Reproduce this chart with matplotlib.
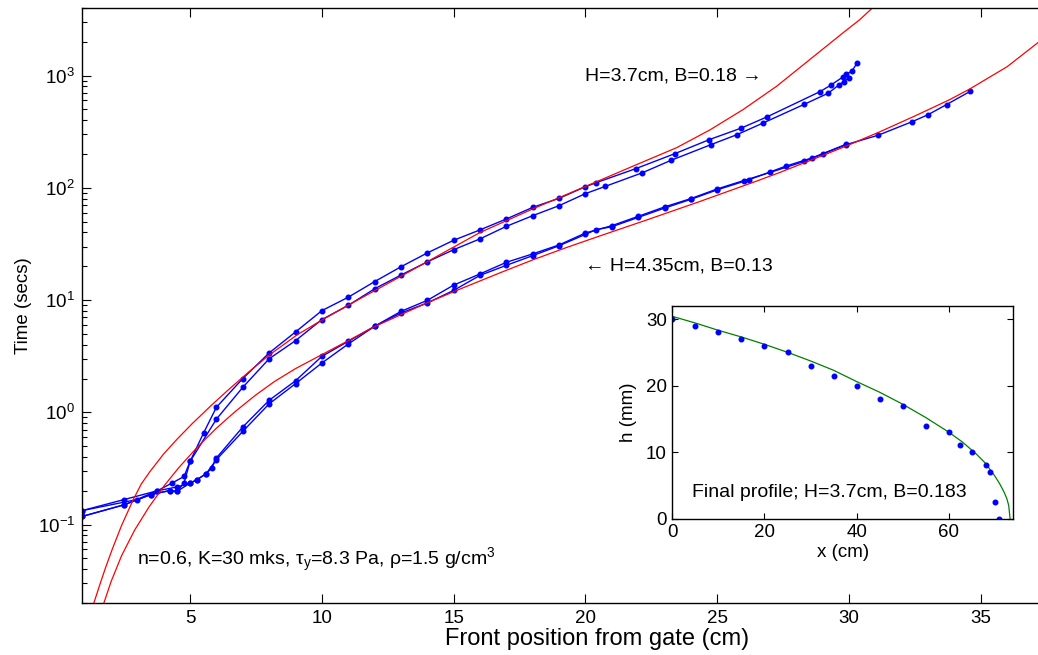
import matplotlib
matplotlib.use('Agg')
import matplotlib.pyplot as plt
from matplotlib.ticker import LogLocator, FixedLocator, NullLocator

plt.rcParams['font.family'] = ['Liberation Sans', 'DejaVu Sans']
plt.rcParams['mathtext.fontset'] = 'custom'
plt.rcParams['mathtext.rm'] = 'Liberation Sans'
plt.rcParams['mathtext.it'] = 'Liberation Sans:italic'
plt.rcParams['mathtext.default'] = 'regular'
plt.rcParams['font.size'] = 13.5

# ---------------- data ----------------
# H=3.7cm experiments
u1_x = [0.9, 2.50, 3.76, 4.31, 4.77, 5.0, 5.52, 6.0, 7, 8, 9, 10, 11, 12, 13, 14, 15, 16, 17, 18, 19, 20,
        20.4, 21.9, 23.4, 24.7, 25.9, 26.9, 28.9, 29.3, 29.75, 29.9, 30.1, 30.3]
u1_t = [0.133, 0.167, 0.20, 0.234, 0.268, 0.365, 0.66, 1.11, 2.0, 3.38, 5.2, 8.05, 10.6, 14.6, 19.8, 26.3,
        34.1, 42.2, 52.8, 67, 80.6, 102.5, 111, 148, 202, 269, 340, 430, 720, 820, 966, 1035, 1092, 1288]
u2_x = [0.9, 2.50, 3.51, 4.24, 4.50, 4.77, 5.0, 6.0, 7, 8, 9, 10, 11, 12, 13, 14, 15, 16, 17, 18, 19, 20,
        20.75, 22.15, 23.25, 24.75, 25.75, 26.75, 28.3, 29.2, 29.6, 29.8, 30.0]
u2_t = [0.118, 0.150, 0.185, 0.201, 0.197, 0.234, 0.365, 0.87, 1.67, 3.0, 4.35, 6.7, 8.97, 12.6, 16.7, 21.9,
        28.1, 35.1, 45.4, 56.5, 69.4, 88.8, 103, 136, 176, 242, 298, 379, 555, 695, 820, 885, 955]
# H=4.35cm experiments
l1_x = [0.9, 2.98, 3.76, 4.50, 5.0, 5.25, 5.61, 5.82, 6.0, 7, 8, 9, 10, 11, 12, 13, 14, 15, 16, 17, 18, 19,
        20, 21, 22, 23, 24, 25, 26, 27, 28.3, 29.0, 29.9, 31.1, 32.4, 33.0, 33.7, 34.6]
l1_t = [0.133, 0.167, 0.20, 0.216, 0.234, 0.25, 0.284, 0.318, 0.392, 0.74, 1.28, 1.91, 3.15, 4.29, 5.84,
        7.93, 9.94, 13.6, 17.1, 21.7, 25.8, 31.0, 39.6, 46.0, 55.7, 67.6, 80.2, 97.8, 116, 137, 172, 200,
        243, 294, 389, 449, 552, 725]
l2_x = [0.9, 2.50, 3.51, 4.24, 4.50, 5.0, 5.25, 5.61, 6.0, 7, 8, 9, 10, 11, 12, 13, 14, 15, 16, 17, 18, 19,
        20, 20.4, 21.0, 22, 23, 24, 25, 26.2, 27.6, 28.6, 29.9]
l2_t = [0.118, 0.150, 0.185, 0.201, 0.197, 0.234, 0.25, 0.284, 0.379, 0.676, 1.19, 1.80, 2.75, 4.06, 5.84,
        7.67, 9.42, 12.2, 16.6, 20.4, 24.9, 30.5, 38.5, 42.4, 45, 54.5, 66, 79, 96, 118, 156, 185, 245]
# theory curves
r1_x = [1.35, 1.6, 1.8, 2.04, 2.4, 2.84, 3.15, 3.48, 4.0, 4.5, 5.08, 5.8, 6.47, 7.2, 7.95, 9.06, 9.99,
        11.0, 12.96, 14.48, 16.0, 18.02, 20.29, 21.94, 23.46, 24.72, 25.98, 27.25, 28.51, 29.77, 30.41,
        30.9]
r1_t = [0.020, 0.0303, 0.0417, 0.0596, 0.098, 0.166, 0.230, 0.297, 0.426, 0.574, 0.792, 1.15, 1.60, 2.26,
        3.17, 4.90, 6.61, 9.0, 16.1, 25.4, 40.0, 65.2, 110, 161, 228, 328, 498, 803, 1389, 2404, 3156,
        4036]
r2_x = [1.73, 2.0, 2.4, 2.9, 3.43, 4.0, 4.57, 5.25, 5.96, 6.7, 7.48, 8.2, 9.0, 10.39, 12.02, 13.98, 15.3,
        16.76, 18.02, 19.3, 20.55, 22.3, 24.3, 26.5, 27.3, 28.6, 29.9, 31.17, 32.5, 33.82, 34.58, 36.0,
        37.2]
r2_t = [0.020, 0.0309, 0.0527, 0.0895, 0.142, 0.219, 0.321, 0.482, 0.708, 1.01, 1.42, 1.88, 2.45, 3.65,
        5.83, 9.42, 12.7, 17.5, 22.9, 29.5, 37.3, 51.5, 75.0, 115, 135, 178, 236, 316, 437, 611, 760, 1202,
        1995]
# inset: final profile
prof_x = [0, 5, 10, 15, 20, 25, 30, 35, 40, 45, 50, 55, 60, 62.5, 65, 68, 69, 70, 71]
prof_h = [30, 29, 28, 27, 26, 25, 23, 21.5, 20, 18, 17, 14, 13, 11, 10, 8, 7, 2.5, 0]
fit_x = [0, 5, 10, 15, 20, 25, 30, 35, 40, 45, 50, 55, 60, 63, 66, 68, 70, 71, 72, 72.6, 73, 73.3]
fit_h = [30.4, 29.4, 28.3, 27.3, 26.2, 25.0, 23.7, 22.3, 20.6, 19.0, 17.2, 15.2, 13.0, 11.5, 9.7, 8.3,
         6.4, 5.3, 4.0, 3.0, 2.0, 0]

xticks_main = [5, 10, 15, 20, 25, 30, 35]
xticks_inset = [0, 20, 40, 60]
yticks_inset = [0, 10, 20, 30]

# ---------------- figure ----------------
W, H = 1038, 655
fig = plt.figure(figsize=(W / 100, H / 100), dpi=100)
ax = fig.add_axes([82 / W, 52 / H, 1030.7 / W, 595 / H])

blue = (0, 0, 1)
for xs, ts in [(u1_x, u1_t), (u2_x, u2_t), (l1_x, l1_t), (l2_x, l2_t)]:
    ax.plot(xs, ts, '-o', color=blue, lw=1.0, ms=3.3, mec=blue, mfc=blue)
ax.plot(r1_x, r1_t, '-', color='red', lw=0.9)
ax.plot(r2_x, r2_t, '-', color='red', lw=0.9)

ax.set_yscale('log')
ax.set_xlim(0.9, 40)
ax.set_ylim(0.02, 4000)
ax.xaxis.set_major_locator(FixedLocator(xticks_main))
ax.xaxis.set_minor_locator(NullLocator())
ax.yaxis.set_major_locator(LogLocator(base=10, numticks=20))
ax.yaxis.set_minor_locator(LogLocator(base=10, subs=range(2, 10), numticks=20))
ax.tick_params(which='both', direction='in', top=True, right=True, width=0.8)
ax.tick_params(which='major', length=6.5, pad=5)
ax.tick_params(which='minor', length=3.6)
for s in ax.spines.values():
    s.set_linewidth(1.0)
ax.set_xlabel('Front position from gate (cm)', labelpad=1, fontsize=17)
ax.set_ylabel('Time (secs)', labelpad=4)

ax.text(20.0, 1000, 'H=3.7cm, B=0.18 \u2192', ha='left', va='center', fontsize=14)
ax.text(20.0, 20, '\u2190 H=4.35cm, B=0.13', ha='left', va='center', fontsize=14)
ax.text(3.0, 0.048, r'n=0.6, K=30 mks, $\tau_y$=8.3 Pa, $\rho$=1.5 g/cm$^3$',
        ha='left', va='center', fontsize=14)

# ---------------- inset ----------------
ax2 = fig.add_axes([672.3 / W, 136.3 / H, 341 / W, 213 / H])
ax2.plot(fit_x, fit_h, '-', color=(0, 0.5, 0), lw=0.9)
ax2.plot(prof_x, prof_h, 'o', color=blue, ms=3.3, ls='none')
ax2.set_xlim(0, 74)
ax2.set_ylim(0, 32)
ax2.set_xticks(xticks_inset)
ax2.set_yticks(yticks_inset)
ax2.tick_params(which='both', direction='in', top=True, right=True, length=4.5, width=0.8, pad=4)
for s in ax2.spines.values():
    s.set_linewidth(1.0)
ax2.set_xlabel('x (cm)', labelpad=2)
ax2.set_ylabel('h (mm)', labelpad=6)
ax2.text(4.2, 4.0, 'Final profile; H=3.7cm, B=0.183', ha='left', va='center', fontsize=14)

fig.savefig('out.png', dpi=100)
